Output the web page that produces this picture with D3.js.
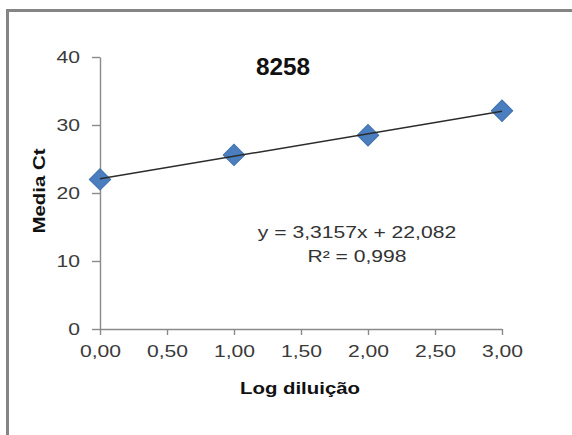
<!DOCTYPE html>
<html>
<head>
<meta charset="utf-8">
<script src="https://cdn.jsdelivr.net/npm/d3@7"></script>
<style>
  body { margin: 0; background: #fff; }
  text { font-family: "Liberation Sans", Arial, sans-serif; }
</style>
</head>
<body>
<div id="chart"></div>
<script>
// data
const logDilution = [0, 1, 2, 3];
const meanCt = [22.0, 25.6, 28.5, 32.1];
const xTicks = [0, 0.5, 1, 1.5, 2, 2.5, 3];
const yTicks = [0, 10, 20, 30, 40];
const slope = 3.3157;
const intercept = 22.082;
const rSquared = 0.998;
const chartTitle = "8258";

const width = 572, height = 435;
const stretch = 1.28; // the fonts in the picture are drawn wide

const svg = d3.select("#chart").append("svg")
    .attr("width", width)
    .attr("height", height);

// outer frame (runs off the right and bottom edge)
svg.append("rect")
    .attr("x", 7.5).attr("y", 10.5)
    .attr("width", 600).attr("height", 500)
    .attr("fill", "#fff")
    .attr("stroke", "#858585")
    .attr("stroke-width", 3);

const x = d3.scaleLinear().domain([0, 3]).range([100, 502]);
const y = d3.scaleLinear().domain([0, 40]).range([329, 57]);

const comma = d => d3.format(".2f")(d).replace(".", ",");

// x axis
const xAxis = svg.append("g")
    .attr("transform", "translate(0," + y(0) + ")")
    .call(d3.axisBottom(x).tickValues(xTicks).tickFormat(comma).tickSize(6).tickSizeOuter(0));

// y axis
const yAxis = svg.append("g")
    .attr("transform", "translate(" + x(0) + ",0)")
    .call(d3.axisLeft(y).tickValues(yTicks).tickFormat(d3.format("d")).tickSize(8).tickSizeOuter(0));

[xAxis, yAxis].forEach(g => {
    g.select(".domain").attr("stroke", "#8a8a8a").attr("stroke-width", 1.4);
    g.selectAll(".tick line").attr("stroke", "#8a8a8a").attr("stroke-width", 1.4);
    g.selectAll(".tick text")
        .attr("fill", "#3a3a3a")
        .style("font-size", "16.5px");
});

xAxis.selectAll(".tick text")
    .attr("y", 0).attr("dy", 0)
    .attr("transform", "translate(0,28) scale(" + stretch + ",1)");

yAxis.selectAll(".tick text")
    .attr("x", 0).attr("dy", "0.36em")
    .attr("transform", "translate(-20,0) scale(" + stretch + ",1)");

// markers
svg.append("g").selectAll("path")
    .data(logDilution)
    .enter()
    .append("path")
    .attr("d", d3.symbol().type(d3.symbolSquare).size(230))
    .attr("transform", (d, i) => "translate(" + x(d) + "," + y(meanCt[i]) + ") rotate(45)")
    .attr("fill", "#4a7ebf")
    .attr("stroke", "#3f70ad")
    .attr("stroke-width", 1);

// linear trend line
const trend = d3.line()
    .x(d => x(d))
    .y(d => y(slope * d + intercept));

svg.append("path")
    .datum([0, 3])
    .attr("d", trend)
    .attr("fill", "none")
    .attr("stroke", "#2b2b2b")
    .attr("stroke-width", 1.5);

// titles
function label(txt, tx, ty, opts) {
    const t = svg.append("text")
        .attr("transform", "translate(" + tx + "," + ty + ")" + (opts.rotate ? " rotate(-90)" : "") + " scale(" + opts.sx + ",1)")
        .attr("text-anchor", "middle")
        .attr("fill", opts.fill || "#111")
        .style("font-size", opts.size + "px")
        .style("font-weight", opts.bold ? "bold" : "normal")
        .text(txt);
    return t;
}

label(chartTitle, 283, 75, { sx: 1.06, size: 23, bold: true });
label("Media Ct", 45, 191, { sx: 1.24, size: 16.5, bold: true, rotate: true });
label("Log diluição", 300, 394, { sx: 1.2, size: 17, bold: true });

// equation of the trend line
const num = (v, p) => d3.format("." + p + "f")(v).replace(".", ",");
label("y = " + num(slope, 4) + "x  +  " + num(intercept, 3), 357, 238, { sx: 1.28, size: 16.5, fill: "#333" });
label("R² = " + num(rSquared, 3), 357, 262, { sx: 1.28, size: 16.5, fill: "#333" });
</script>
</body>
</html>
